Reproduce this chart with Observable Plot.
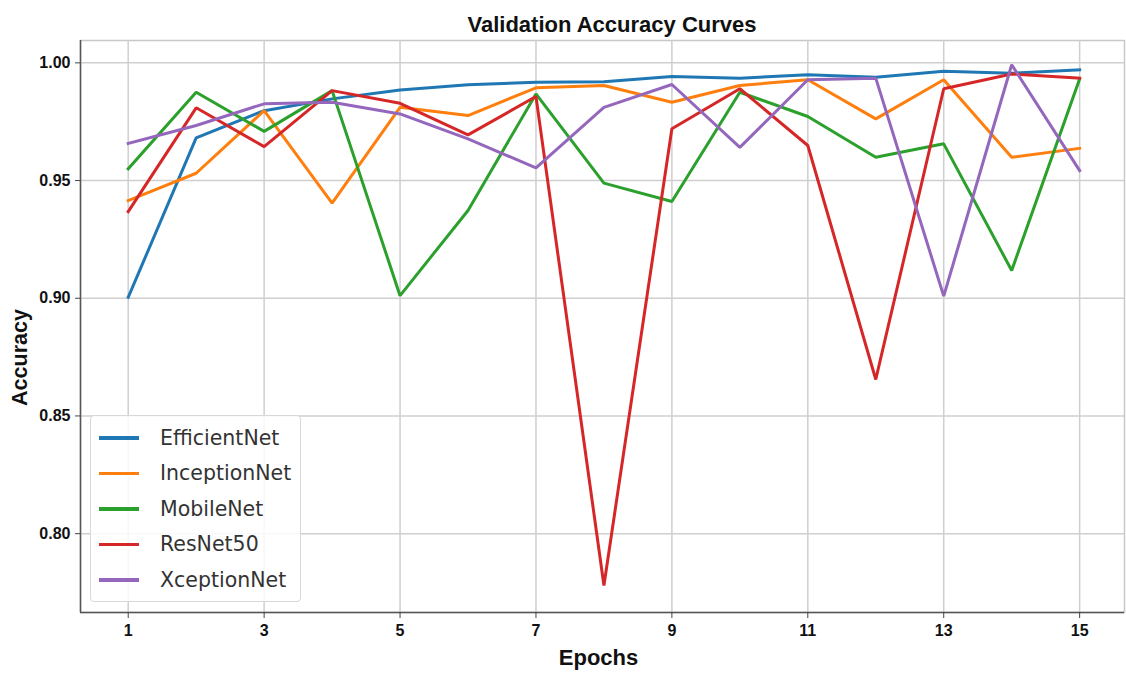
<!DOCTYPE html>
<html>
<head>
<meta charset="utf-8">
<script src="https://cdn.jsdelivr.net/npm/d3@7"></script>
<script src="https://cdn.jsdelivr.net/npm/@observablehq/plot@0.6"></script>
<style>
  html, body { margin: 0; padding: 0; background: #fff; }
  #wrap { position: relative; width: 1126px; height: 679px; font-family: "Liberation Sans", Arial, sans-serif; }
  #title { height: 38px; line-height: 50px; text-align: center; font-weight: bold; font-size: 22px; color: #111; padding-left: 98px; box-sizing: border-box; }
  #legend { position: absolute; left: 90px; top: 415px; width: 211px; height: 187px; box-sizing: border-box;
    background: rgba(255,255,255,0.85); border: 1px solid #d8d8d8; border-radius: 4px; padding-top: 4px; }
  .item { height: 35.5px; display: flex; align-items: center; font-family: "DejaVu Sans", sans-serif; font-size: 20.5px; color: #333; }
  .sw { width: 40px; height: 3.5px; margin-left: 8px; margin-right: 21px; }
</style>
</head>
<body>
<div id="wrap">
  <div id="title">Validation Accuracy Curves</div>
  <div id="chart"></div>
  <div id="legend"></div>
</div>
<script>
const epochs = [1, 2, 3, 4, 5, 6, 7, 8, 9, 10, 11, 12, 13, 14, 15];
const seriesNames = ["EfficientNet", "InceptionNet", "MobileNet", "ResNet50", "XceptionNet"];
const seriesColors = ["#1f77b4", "#ff7f0e", "#2ca02c", "#d62728", "#9467bd"];
const efficientNet = [0.9004, 0.9681, 0.9797, 0.9847, 0.9885, 0.9907, 0.9918, 0.9920, 0.9942, 0.9935, 0.9950, 0.9939, 0.9964, 0.9956, 0.9970];
const inceptionNet = [0.9415, 0.9531, 0.9797, 0.9404, 0.9811, 0.9776, 0.9894, 0.9904, 0.9833, 0.9904, 0.9928, 0.9762, 0.9928, 0.9599, 0.9637];
const mobileNet    = [0.9550, 0.9875, 0.9709, 0.9882, 0.9011, 0.9373, 0.9868, 0.9489, 0.9411, 0.9875, 0.9772, 0.9599, 0.9656, 0.9118, 0.9932];
const resNet50     = [0.9368, 0.9809, 0.9644, 0.9882, 0.9828, 0.9694, 0.9857, 0.7780, 0.9720, 0.9890, 0.9649, 0.8655, 0.9890, 0.9953, 0.9935];
const xceptionNet  = [0.9658, 0.9734, 0.9826, 0.9833, 0.9783, 0.9677, 0.9554, 0.9811, 0.9908, 0.9641, 0.9928, 0.9935, 0.9009, 0.9992, 0.9542];
const xTicks = [1, 3, 5, 7, 9, 11, 13, 15];
const yTicks = [0.80, 0.85, 0.90, 0.95, 1.00];

const allSeries = [efficientNet, inceptionNet, mobileNet, resNet50, xceptionNet];
const rows = [];
allSeries.forEach((vals, i) => vals.forEach((v, j) => rows.push({model: seriesNames[i], epoch: epochs[j], acc: v})));

const xDomain = [0.298, 15.66];
const yDomain = [0.7665, 1.0095];
const tickFont = {fontSize: 16, fontWeight: "bold", fill: "#111", fontFamily: "Liberation Sans, Arial, sans-serif"};

const chart = Plot.plot({
  width: 1126,
  height: 641,
  marginLeft: 80,
  marginRight: 2,
  marginTop: 2,
  marginBottom: 67,
  style: {fontFamily: "Liberation Sans, Arial, sans-serif", background: "#fff"},
  x: {domain: xDomain},
  y: {domain: yDomain},
  color: {domain: seriesNames, range: seriesColors},
  marks: [
    Plot.frame({stroke: "#c8c8c8", strokeWidth: 1.5}),
    Plot.gridX(xTicks, {stroke: "#cfcfcf", strokeOpacity: 1, strokeWidth: 1.5}),
    Plot.gridY(yTicks, {stroke: "#cfcfcf", strokeOpacity: 1, strokeWidth: 1.5}),
    Plot.ruleX([xDomain[0]], {stroke: "#555", strokeWidth: 1.5}),
    Plot.ruleY([yDomain[0]], {stroke: "#555", strokeWidth: 1.5}),
    Plot.axisX(xTicks, {tickSize: 6, tickPadding: 6, stroke: "#444", ...tickFont, label: "Epochs", labelAnchor: "center", labelOffset: 52, labelArrow: "none"}),
    Plot.axisY(yTicks, {tickSize: 5, tickPadding: 5, stroke: "#444", tickFormat: d3.format(".2f"), ...tickFont, label: null}),
    Plot.line(rows, {x: "epoch", y: "acc", z: "model", stroke: "model", strokeWidth: 3, strokeLinejoin: "miter", strokeLinecap: "square"}),
    Plot.text(["Accuracy"], {frameAnchor: "left", textAnchor: "middle", text: d => d, rotate: -90, dx: -60, dy: 31, fontSize: 21.5, fontWeight: "bold", fill: "#111"})
  ]
});
document.getElementById("chart").appendChild(chart);
// enlarge the x-axis label
chart.querySelectorAll("g[aria-label='x-axis label'] text").forEach(t => { t.setAttribute("font-size", 22); t.setAttribute("dx", -4); });

const legend = document.getElementById("legend");
seriesNames.forEach((name, i) => {
  const item = document.createElement("div");
  item.className = "item";
  const sw = document.createElement("div");
  sw.className = "sw";
  sw.style.background = seriesColors[i];
  const label = document.createElement("span");
  label.textContent = name;
  item.appendChild(sw);
  item.appendChild(label);
  legend.appendChild(item);
});
</script>
</body>
</html>
